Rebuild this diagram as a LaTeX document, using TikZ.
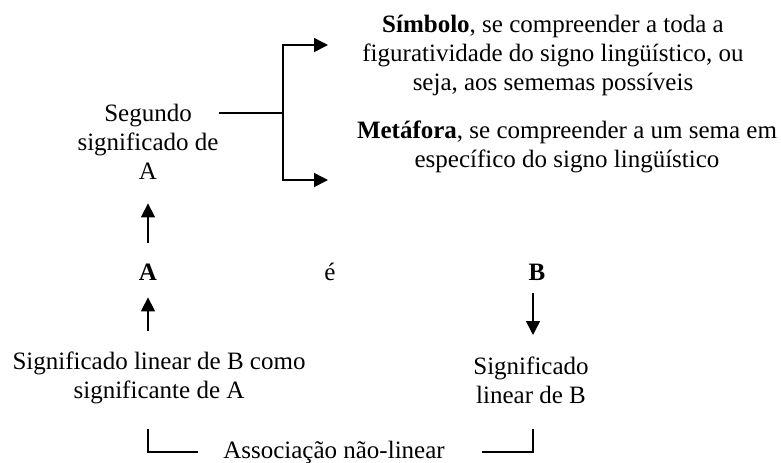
\documentclass[tikz,border=0pt]{standalone}
\usepackage{fontspec}
\setmainfont{Liberation Serif}
\usetikzlibrary{positioning, arrows.meta}

\begin{document}
\begin{tikzpicture}[x=0.5pt, y=-0.5pt,
        txt/.style={inner sep=0pt, align=center, anchor=base, font=\fontsize{12.5}{14.5}\selectfont},
        arr/.style={-{Triangle[length=7pt, width=7pt]}, line width=0.75pt},
        brk/.style={line width=0.75pt}]
    \useasboundingbox (0, 0) rectangle (781, 462);

    % multi-line nodes sit on the baseline of their last line
    \node[txt] (simb) at (553, 90) {\textbf{Símbolo}, se compreender a toda a\\figuratividade do signo lingüístico, ou\\seja, aos sememas possíveis};
    \node[txt] (meta) at (567, 167) {\textbf{Metáfora}, se compreender a um sema em\\específico do signo lingüístico};
    \node[txt] (seg) at (148, 179) {Segundo\\significado de\\A};

    \node[txt] (a) at (148, 280) {\textbf{A}};
    \node[txt] (e) at (330, 280) {é};
    \node[txt] (b) at (537, 280) {\textbf{B}};

    \node[txt] (linA) at (159, 398) {Significado linear de B como\\significante de A};
    \node[txt] (linB) at (531, 403) {Significado\\linear de B};
    \node[txt] (assoc) at (334, 458) {Associação não-linear};

    \coordinate (fork) at (283, 113);
    \coordinate (tipS) at (328, 45);
    \coordinate (tipM) at (328, 180);

    \draw[brk] (seg.east |- fork) -- (fork);
    \draw[arr] (fork) |- (tipS);
    \draw[arr] (fork) |- (tipM);

    \draw[arr] ([yshift=10pt]a.north) -- ([yshift=-12pt]seg.south);
    \draw[arr] ([yshift=10pt]a.south |- linA.north) -- ([yshift=-8.5pt]a.south);
    \draw[arr] ([xshift=-2pt, yshift=-6.5pt]b.south) -- ([xshift=-2pt, yshift=10.5pt]b.south |- linB.north);

    \draw[brk] ([xshift=-12.5pt]assoc.west) -| ([yshift=-12.5pt]a.south |- linA.south);
    \draw[brk] ([xshift=18.5pt]assoc.east) -| ([xshift=-2pt, yshift=-12.5pt]b.south |- linB.south);
\end{tikzpicture}
\end{document}
